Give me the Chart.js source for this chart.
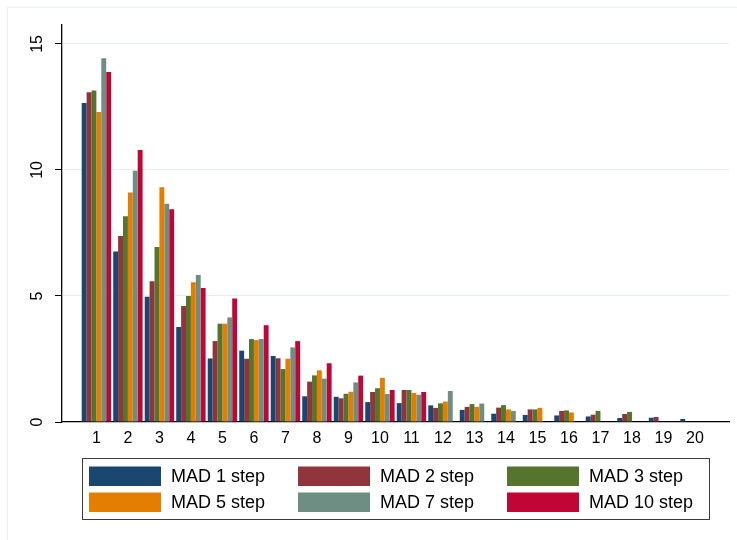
<!DOCTYPE html>
<html>
<head>
<meta charset="utf-8">
<script src="https://cdn.jsdelivr.net/npm/chart.js@4/dist/chart.umd.min.js"></script>
<style>
  html, body { margin: 0; padding: 0; background: #ffffff; }
  canvas { display: block; }
</style>
</head>
<body>
<canvas id="chart" width="737" height="540"></canvas>
<script>
// Categories along the x axis
const categories = [1, 2, 3, 4, 5, 6, 7, 8, 9, 10, 11, 12, 13, 14, 15, 16, 17, 18, 19, 20];

// Series values, one per category
const mad1 = [12.66, 6.76, 4.97, 3.77, 2.52, 2.83, 2.62, 1.02, 1.00, 0.79, 0.75, 0.66, 0.48, 0.33, 0.28, 0.26, 0.22, 0.16, 0.17, 0.12];
const mad2 = [13.08, 7.38, 5.58, 4.60, 3.21, 2.51, 2.53, 1.60, 0.94, 1.19, 1.27, 0.56, 0.60, 0.57, 0.50, 0.44, 0.29, 0.32, 0.20, 0];
const mad3 = [13.15, 8.16, 6.94, 5.00, 3.90, 3.29, 2.10, 1.85, 1.12, 1.34, 1.27, 0.74, 0.71, 0.67, 0.50, 0.46, 0.44, 0.40, 0, 0];
const mad5 = [12.30, 9.10, 9.31, 5.54, 3.90, 3.25, 2.51, 2.05, 1.20, 1.75, 1.15, 0.81, 0.60, 0.50, 0.56, 0.38, 0, 0, 0, 0];
const mad7 = [14.43, 9.97, 8.66, 5.83, 4.15, 3.29, 2.96, 1.72, 1.57, 1.11, 1.08, 1.23, 0.73, 0.44, 0, 0, 0, 0, 0, 0];
const mad10 = [13.89, 10.79, 8.44, 5.32, 4.90, 3.84, 3.21, 2.33, 1.84, 1.27, 1.19, 0, 0, 0, 0, 0, 0, 0, 0, 0];

// Series names and y-axis tick labels
const seriesNames = ["MAD 1 step", "MAD 2 step", "MAD 3 step", "MAD 5 step", "MAD 7 step", "MAD 10 step"];
const yTicks = [0, 5, 10, 15];

const seriesValues = [mad1, mad2, mad3, mad5, mad7, mad10];
const seriesColors = ["#1a476f", "#90353b", "#55752f", "#e37e00", "#6e8e84", "#c10534"];

const FONT = "'Liberation Sans', Arial, Helvetica, sans-serif";

const datasets = seriesNames.map((name, i) => ({
  label: name,
  data: categories.map((c, j) => ({ x: c, y: seriesValues[i][j] })),
  backgroundColor: seriesColors[i],
  borderWidth: 0,
  categoryPercentage: 0.933,
  barPercentage: 1.0
}));

// Light outer frame of the graph region
const framePlugin = {
  id: 'frame',
  beforeDraw(chart) {
    const ctx = chart.ctx;
    ctx.save();
    ctx.fillStyle = '#ffffff';
    ctx.fillRect(0, 0, chart.width, chart.height);
    ctx.strokeStyle = '#eaf0f0';
    ctx.lineWidth = 1;
    ctx.strokeRect(7.5, 7.5, chart.width + 20, chart.height + 20);
    ctx.restore();
  }
};

// Vertical y tick labels and the boxed legend below the plot
const labelsPlugin = {
  id: 'labels',
  afterDraw(chart) {
    const ctx = chart.ctx;
    const yScale = chart.scales.y;
    ctx.save();
    ctx.fillStyle = '#000000';
    ctx.font = '16px ' + FONT;
    ctx.textAlign = 'center';
    ctx.textBaseline = 'middle';
    yTicks.forEach(v => {
      const py = yScale.getPixelForValue(v);
      ctx.save();
      ctx.translate(38, py);
      ctx.rotate(-Math.PI / 2);
      ctx.fillText(String(v), 0, 0);
      ctx.restore();
    });

    // legend box
    ctx.strokeStyle = '#3c3c3c';
    ctx.lineWidth = 1;
    ctx.strokeRect(82.5, 458.5, 627, 61);
    const colX = [89, 298, 507];
    const rowY = [466.5, 492.5];
    ctx.font = '18px ' + FONT;
    ctx.textAlign = 'left';
    chart.data.datasets.forEach((ds, i) => {
      const col = i % 3, row = Math.floor(i / 3);
      ctx.fillStyle = ds.backgroundColor;
      ctx.fillRect(colX[col], rowY[row], 72, 19.5);
      ctx.fillStyle = '#000000';
      ctx.fillText(ds.label, colX[col] + 82, rowY[row] + 10.5);
    });
    ctx.restore();
  }
};

new Chart(document.getElementById('chart'), {
  type: 'bar',
  data: { datasets },
  options: {
    responsive: false,
    animation: false,
    devicePixelRatio: 1,
    layout: { padding: { left: 0, right: 8, top: 25, bottom: 0 } },
    plugins: {
      legend: { display: false },
      tooltip: { enabled: false }
    },
    scales: {
      x: {
        type: 'linear',
        offset: false,
        min: -0.092,
        max: 21.08,
        afterBuildTicks(scale) { scale.ticks = categories.map(v => ({ value: v })); },
        afterFit(scale) { scale.height = 118; },
        grid: { display: false, drawTicks: false, offset: false },
        border: { display: true, color: '#000000', width: 1.3 },
        ticks: {
          color: '#000000',
          font: { family: FONT, size: 16 },
          padding: 7,
          maxRotation: 0,
          autoSkip: false
        }
      },
      y: {
        min: 0,
        max: 15.75,
        afterBuildTicks(scale) { scale.ticks = yTicks.map(v => ({ value: v })); },
        afterFit(scale) { scale.width = 62; },
        grid: {
          color: ctx => (ctx.tick && ctx.tick.value === 0) ? 'rgba(0,0,0,0)' : '#e3ecef',
          lineWidth: 1,
          drawTicks: true,
          tickLength: 7,
          tickColor: '#000000'
        },
        border: { display: true, color: '#000000', width: 1.3 },
        ticks: { display: true, color: 'rgba(0,0,0,0)', font: { family: FONT, size: 16 } }
      }
    }
  },
  plugins: [framePlugin, labelsPlugin]
});
</script>
</body>
</html>
